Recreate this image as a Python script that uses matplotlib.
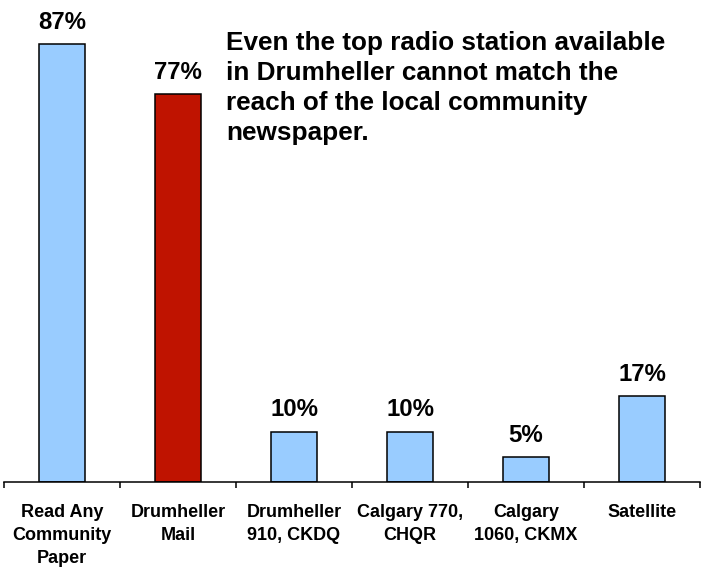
import matplotlib
matplotlib.use("Agg")
import matplotlib.pyplot as plt

categories = ["Read Any\nCommunity\nPaper", "Drumheller\nMail", "Drumheller\n910, CKDQ",
              "Calgary 770,\nCHQR", "Calgary\n1060, CKMX", "Satellite"]
values = [87, 77, 10, 10, 5, 17]
labels = ["87%", "77%", "10%", "10%", "5%", "17%"]
colors = ["#99CCFF", "#BF1300", "#99CCFF", "#99CCFF", "#99CCFF", "#99CCFF"]
note = ("Even the top radio station available\nin Drumheller cannot match the\n"
        "reach of the local community\nnewspaper.")

plt.rcParams['font.family'] = ['Liberation Sans', 'DejaVu Sans']
W, H = 706, 567
fig = plt.figure(figsize=(W / 100, H / 100), dpi=100)
ax = fig.add_axes([4 / W, 85 / H, 696 / W, 482 / H])

x = list(range(len(values)))
ax.bar(x, values, width=0.4, color=colors, edgecolor="black", linewidth=1.1, zorder=2)
for xi, v, lab in zip(x, values, labels):
    ax.annotate(lab, (xi, v), xytext=(0, 11), textcoords="offset points",
                ha="center", va="baseline", fontsize=17.3, fontweight="bold")

ax.set_xlim(-0.5, len(values) - 0.5)
ax.set_ylim(0, 482 / 5.035)
for s in ["top", "right", "left"]:
    ax.spines[s].set_visible(False)
ax.spines["bottom"].set_linewidth(1.1)
ax.set_yticks([])
ax.set_xticks(x)
ax.set_xticklabels(categories, fontsize=13, fontweight="bold", linespacing=1.45)
ax.tick_params(axis="x", which="major", length=0, pad=16)
ax.set_xticks([i - 0.5 for i in range(len(values) + 1)], minor=True)
ax.tick_params(axis="x", which="minor", length=4.5, width=1.1, direction="out")

fig.text(226 / W, 1 - 31 / H, note, ha="left", va="top", fontsize=18.8,
         fontweight="bold", linespacing=1.32)

fig.savefig("out.png", dpi=100)
